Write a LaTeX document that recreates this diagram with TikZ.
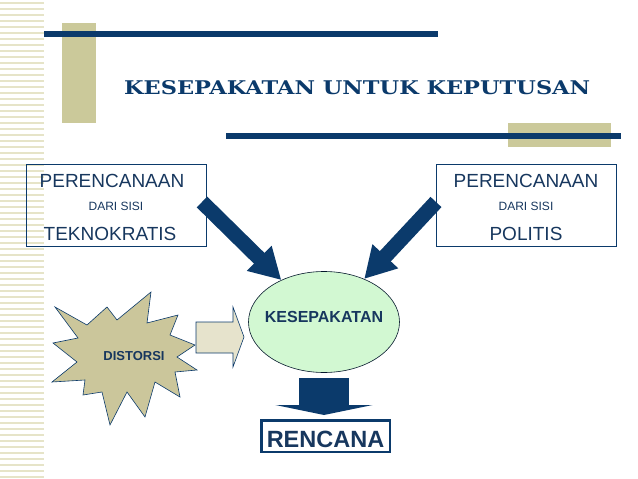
\documentclass[tikz,border=0pt]{standalone}
\usepackage{fontspec}
\setmainfont{Liberation Sans}
\newfontfamily\titlefont{DejaVu Serif}
\usetikzlibrary{arrows.meta,shapes.geometric}
\definecolor{navy}{HTML}{0B3A6B}
\definecolor{textnavy}{HTML}{17375E}
\definecolor{khaki}{HTML}{CBC99A}
\definecolor{stripe}{HTML}{E6E4C8}
\definecolor{mint}{HTML}{D2F8D2}
\definecolor{sand}{HTML}{E6E3CC}
\definecolor{starfill}{HTML}{CBC69B}
\begin{document}
\begin{tikzpicture}[x=1pt,y=-1pt,
  infobox/.style={draw=navy,line width=0.8pt,minimum width=180pt,minimum height=82pt,inner sep=0pt},
  bigtext/.style={anchor=base,text=textnavy,font=\fontsize{19}{20}\selectfont,inner sep=0pt},
  smalltext/.style={anchor=base,text=textnavy,font=\fontsize{12}{13}\selectfont,inner sep=0pt},
  boldtext/.style={anchor=base,text=textnavy,inner sep=0pt},
  bigarrow/.style={navy,line width=15pt,-{Triangle[width=33pt,length=31pt]}}]
\useasboundingbox (0,0) rectangle (638,479);
% BACKGROUND
\foreach \y in {3,9,...,477} \draw[stripe,line width=1.6pt] (0,\y) -- (44,\y);
\fill[khaki] (62,23) rectangle (96,123);
\fill[khaki] (508,123) rectangle (611,147);
\draw[navy,line width=6pt] (44,34) -- (438,34);
\draw[navy,line width=6pt] (226,136) -- (621,136);
% TITLE
\node[anchor=base west,inner sep=0pt,text=navy] (title) at (124,94.5)
  {\resizebox{466pt}{14pt}{\titlefont\bfseries KESEPAKATAN UNTUK KEPUTUSAN}};
% BOXES
\node[infobox] (box_tekno) at (116.5,205.5) {};
\node[bigtext] (tekno_top) at (112,187) {PERENCANAAN};
\node[smalltext] (tekno_mid) at (116,210) {DARI SISI};
\node[bigtext] (tekno_bottom) at (110,240) {TEKNOKRATIS};
\node[infobox] (box_politis) at (526,205.5) {};
\node[bigtext] (politis_top) at (526,187) {PERENCANAAN};
\node[smalltext] (politis_mid) at (526,210) {DARI SISI};
\node[bigtext] (politis_bottom) at (526,240) {POLITIS};
% CENTRE
\node[ellipse,draw=black!60!navy,fill=mint,line width=0.6pt,minimum width=151pt,minimum height=101pt,inner sep=0pt]
  (ellipse_kesepakatan) at (324,322) {};
\node[boldtext,font=\bfseries\fontsize{16}{17}\selectfont] (text_kesepakatan) at (324,322.5) {KESEPAKATAN};
\node[draw=navy,line width=2.5pt,minimum width=128.5pt,minimum height=31.5pt,inner sep=0pt]
  (box_rencana) at (325.5,436) {};
\node[boldtext,font=\bfseries\fontsize{23.5}{24}\selectfont] (text_rencana) at (325.5,447) {RENCANA};
% ARROWS
\coordinate (tail_tekno) at (202,202);
\coordinate (tail_politis) at (436,202);
\draw[bigarrow] (tail_tekno) -- (ellipse_kesepakatan);
\draw[bigarrow] (tail_politis) -- (ellipse_kesepakatan);
\draw[navy,line width=50pt,-{Triangle[width=97pt,length=10pt]},shorten <=5pt,shorten >=4pt]
  (ellipse_kesepakatan.south) -- (ellipse_kesepakatan.south |- box_rencana.north);
% DISTORSI
\draw[navy,line width=0.6pt,fill=starfill]
  (55,307) -- (87,325) -- (107,307) -- (117,320) -- (151,292) -- (147,323)
  -- (178,315) -- (170,335) -- (195,345) -- (177,357) -- (197,370) -- (175,372)
  -- (180,397) -- (155,382) -- (145,417) -- (127,392) -- (110,425) -- (102,392)
  -- (83,395) -- (85,380) -- (52,382) -- (77,362) -- (53,343) -- (78,338) -- cycle;
\node[boldtext,font=\bfseries\fontsize{13}{14}\selectfont] (text_distorsi) at (134,360) {DISTORSI};
\draw[navy,line width=0.6pt,fill=sand]
  (196,322) -- (233,322) -- (233,307) -- (244,337) -- (233,367) -- (233,353) -- (196,353) -- cycle;
\end{tikzpicture}
\end{document}
